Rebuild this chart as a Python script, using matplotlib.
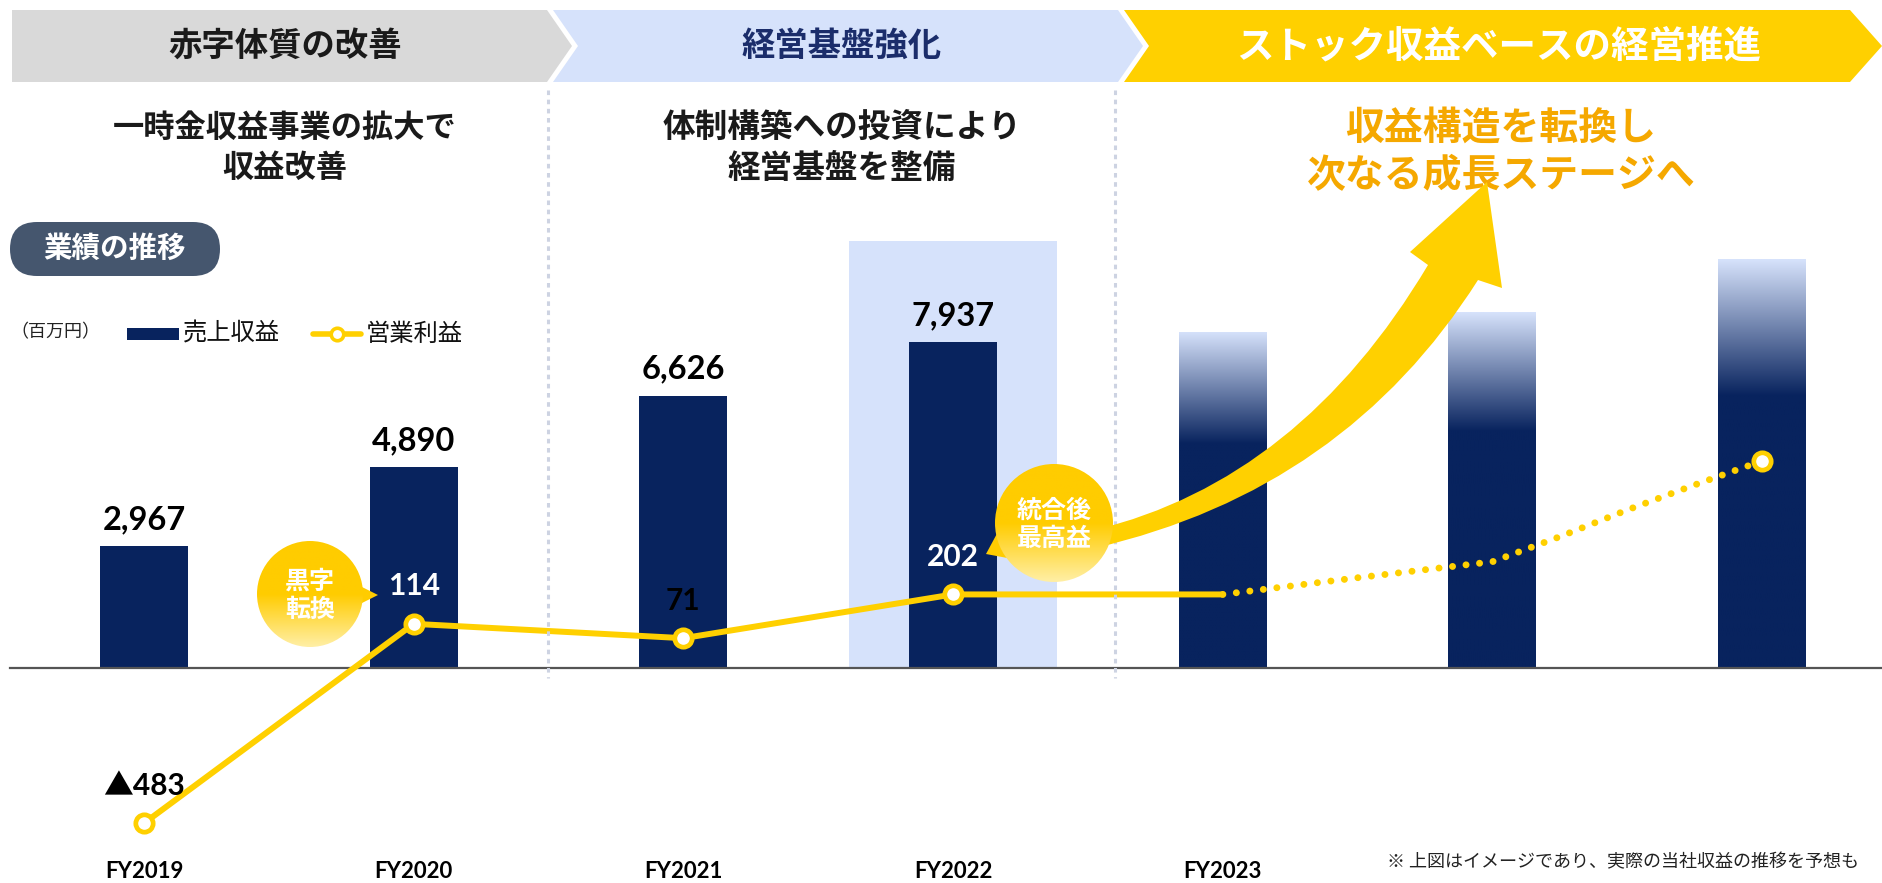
import numpy as np
import matplotlib
matplotlib.use('Agg')
import matplotlib.pyplot as plt
from matplotlib.patches import Polygon, Circle, Rectangle, FancyBboxPatch, PathPatch
from matplotlib.path import Path
from matplotlib.colors import LinearSegmentedColormap

plt.rcParams['font.family'] = ['Noto Sans CJK JP', 'DejaVu Sans']

# ---------------- data ----------------
years = ['FY2019', 'FY2020', 'FY2021', 'FY2022', 'FY2023']
sales = [2967, 4890, 6626, 7937]
sales_labels = ['2,967', '4,890', '6,626', '7,937']
future_x_bars = [4, 5, 6]
future_sales = [8180, 8660, 9950]          # illustrative (image) bars
op_profit = [-483, 114, 71, 202]
op_labels = ['▲483', '114', '71', '202']
op_label_colors = ['black', 'white', 'black', 'white']
op_fy2023 = 202
future_x = [4, 4.5, 5, 5.25, 5.5, 5.75, 6]
future_profit = [202, 252, 300, 375, 455, 530, 602]

stage_titles = ['赤字体質の改善', '経営基盤強化', 'ストック収益ベースの経営推進']
stage_subtitles = ['一時金収益事業の拡大で\n収益改善',
                   '体制構築への投資により\n経営基盤を整備',
                   '収益構造を転換し\n次なる成長ステージへ']
legend_labels = ['売上収益', '営業利益']
unit_label = '（百万円）'
section_label = '業績の推移'
callouts = ['黒字\n転換', '統合後\n最高益']
footnote = '※ 上図はイメージであり、実際の当社収益の推移を予想も'

# ---------------- style ----------------
W, H = 1883, 883
navy = '#08235E'
light_blue = '#D6E2FB'
yellow = '#FFD000'
orange = '#F5A800'
num_font = ['Lato', 'Noto Sans CJK JP', 'DejaVu Sans']

fig = plt.figure(figsize=(W / 100, H / 100), dpi=100)
fig.patch.set_facecolor('white')

# main axes (bars)
x0px, step = 144, 269.7
upp = 1 / 0.0411
ax = fig.add_axes([0, 0, 1, 1])
ax.axis('off')

# FY2022 highlight
hw = 104 / step
ax.add_patch(Rectangle((3 - hw, 0), 2 * hw, (668 - 241) * upp, facecolor=light_blue,
                       edgecolor='none', zorder=1))

bw = 88 / step
ax.bar(range(len(sales)), sales, width=bw, color=navy, zorder=3)
for i, (v, lab) in enumerate(zip(sales, sales_labels)):
    ax.annotate(lab, (i, v), xytext=(0, 19), textcoords='offset points',
                ha='center', va='center', fontsize=23.5, fontweight='bold',
                family=num_font, color='black', zorder=6)

# gradient (illustrative) bars
grad = np.concatenate([np.zeros(170), np.linspace(0, 1, 86)])[:, None]
cmap = LinearSegmentedColormap.from_list('fade', [navy, light_blue])
fbars = ax.bar(future_x_bars, future_sales, width=bw, color='none', zorder=3)
for b in fbars:
    x, y0 = b.get_x(), b.get_y()
    im = ax.imshow(grad, cmap=cmap, origin='lower', aspect='auto',
                   extent=(x, x + b.get_width(), y0, y0 + b.get_height()),
                   interpolation='bilinear', zorder=3)
    im.set_clip_path(b)

ax.axhline(0, xmin=10 / W, xmax=1, color='#555555', lw=1.6, zorder=4)

for i, yr in enumerate(years):
    ax.text(i, 1 - 871 / H, yr, transform=ax.get_xaxis_transform(), ha='center',
            va='center', fontsize=16, fontweight='bold', family=num_font, color='black')

ax.set_xlim(-x0px / step, (W - x0px) / step)
ax.set_ylim(-(H - 668) * upp, 668 * upp)

# secondary axes (operating profit)
ax2 = ax.twinx()
ax2.axis('off')
upp2 = 1 / 0.334
ax2.plot(range(len(op_profit) + 1), op_profit + [op_fy2023], color=yellow, lw=4.3,
         solid_capstyle='round', solid_joinstyle='round', zorder=5)
ax2.plot(future_x, future_profit, color=yellow, lw=5, ls=(0, (0.01, 1.95)),
         dash_capstyle='round', zorder=5)
ax2.plot(range(len(op_profit)), op_profit, ls='none', marker='o', ms=12.5,
         mfc='white', mec=yellow, mew=3.4, zorder=6)
ax2.plot([future_x[-1]], [future_profit[-1]], ls='none', marker='o', ms=12.5,
         mfc='white', mec=yellow, mew=3.4, zorder=6)
for i, (v, lab, c) in enumerate(zip(op_profit, op_labels, op_label_colors)):
    ax2.annotate(lab, (i, v), xytext=(0, 27), textcoords='offset points',
                 ha='center', va='center', fontsize=21.5, fontweight='bold',
                 family=num_font, color=c, zorder=7)
ax2.set_ylim(-(H - 661.9) * upp2, 661.9 * upp2)

# overlay axes in pixel coordinates for decorations
ax3 = fig.add_axes([0, 0, 1, 1])
ax3.axis('off')
ax3.patch.set_alpha(0)

# stage banners
yt, yb, ym = 10, 82, 46
banners = [
    [(12, yt), (547, yt), (572, ym), (547, yb), (12, yb)],
    [(553, yt), (1118, yt), (1143, ym), (1118, yb), (553, yb), (578, ym)],
    [(1124, yt), (1850, yt), (1882, ym), (1850, yb), (1124, yb), (1149, ym)],
]
bcolors = ['#D9D9D9', light_blue, yellow]
tcolors = ['#1A1A1A', '#1B2D6B', 'white']
tx = [285, 842, 1499]
tsz = [24, 24, 27]
for poly, bc, tc, x, s, t in zip(banners, bcolors, tcolors, tx, tsz, stage_titles):
    ax3.add_patch(Polygon(poly, closed=True, facecolor=bc, edgecolor='none'))
    ax3.text(x, ym, t, ha='center', va='center', fontsize=s, color=tc, fontweight='bold')

# subtitles
sub_x = [285, 842, 1501]
sub_c = ['#1A1A1A', '#1A1A1A', orange]
sub_s = [22.5, 23.5, 28]
sub_y = [148, 148, 152]
for x, y, c, s, t in zip(sub_x, sub_y, sub_c, sub_s, stage_subtitles):
    ax3.text(x, y, t, ha='center', va='center', fontsize=s, color=c, fontweight='bold',
             linespacing=1.3)

# dashed separators
for xs in [548, 1115]:
    ax3.plot([xs, xs], [90, 678], color='#CDD3E2', lw=2.2, ls=(0, (1.5, 1.5)), zorder=2)

# section pill
ax3.add_patch(FancyBboxPatch((10, 222), 210, 54, boxstyle='round,pad=0,rounding_size=27',
                             facecolor='#45566E', edgecolor='none'))
ax3.text(115, 249, section_label, ha='center', va='center', fontsize=20.5,
         color='white', fontweight='bold')

# legend
ly = 334
ax3.text(10, ly - 2, unit_label, ha='left', va='center', fontsize=13, color='#222222')
ax3.add_patch(Rectangle((127, ly - 6), 52, 12, facecolor=navy, edgecolor='none'))
ax3.text(183, ly, legend_labels[0], ha='left', va='center', fontsize=17.5, color='#111111')
ax3.plot([313, 361], [ly, ly], color=yellow, lw=4, solid_capstyle='round')
ax3.plot([337], [ly], marker='o', ms=9, mfc='white', mec=yellow, mew=2.6)
ax3.text(366, ly, legend_labels[1], ha='left', va='center', fontsize=17.5, color='#111111')

# big curved arrow
verts = [(1095, 530), (1300, 480), (1428, 265),
         (1410, 252), (1487, 182), (1502, 288), (1478, 280),
         (1345, 490), (1095, 548), (1095, 530)]
codes = [Path.MOVETO, Path.CURVE3, Path.CURVE3,
         Path.LINETO, Path.LINETO, Path.LINETO, Path.LINETO,
         Path.CURVE3, Path.CURVE3, Path.CLOSEPOLY]
ax3.add_patch(PathPatch(Path(verts, codes), facecolor=yellow, edgecolor='none', zorder=3))

# callout bubbles
bub_cmap = LinearSegmentedColormap.from_list('bub', ['#FFCC00', '#FFCC00', '#FFEFA6'])
bub_grad = np.linspace(0, 1, 256)[:, None]
bubbles = [((310, 594), 53, [(352, 582), (378, 595), (352, 608)]),
           ((1054, 523), 59, [(1000, 528), (986, 554), (1018, 560)])]
for ((cx, cy), r, tri), txt in zip(bubbles, callouts):
    ax3.add_patch(Polygon(tri, closed=True, facecolor='#FFCC00', edgecolor='none', zorder=4))
    circ = Circle((cx, cy), r, facecolor='none', edgecolor='none', zorder=4)
    ax3.add_patch(circ)
    im = ax3.imshow(bub_grad, cmap=bub_cmap, aspect='auto', origin='upper',
                    extent=(cx - r, cx + r, cy + r, cy - r), zorder=4)
    im.set_clip_path(circ)
    ax3.text(cx, cy + 2, txt, ha='center', va='center', fontsize=18, color='white',
             fontweight='bold', linespacing=1.2, zorder=5)

# footnote
ax3.text(1859, 862, footnote, ha='right', va='center', fontsize=13, color='#222222')

ax3.set_xlim(0, W)
ax3.set_ylim(H, 0)

fig.savefig('out.png', dpi=100, facecolor='white')
